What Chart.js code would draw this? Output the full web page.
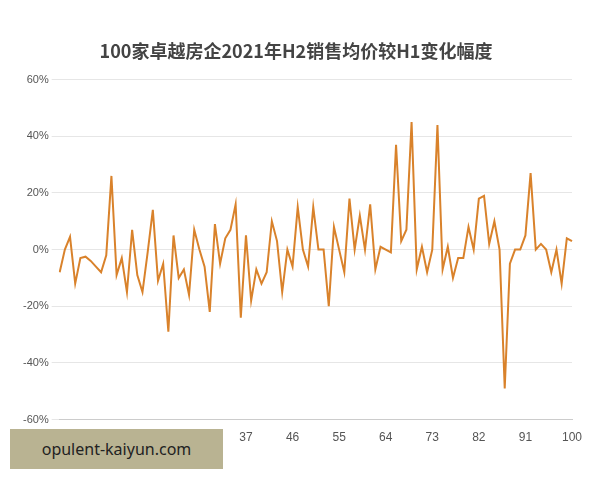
<!DOCTYPE html>
<html><head><meta charset="utf-8">
<script src="https://cdn.jsdelivr.net/npm/chart.js@4"></script>
<style>
body{margin:0;background:#fff;font-family:"Noto Sans CJK SC","Noto Sans",sans-serif}
#wrap{position:relative;width:600px;height:480px}
#mark{position:absolute;left:10px;top:429px;width:213px;height:40px;background:#b9b392;color:#222;font:16px "Noto Sans",sans-serif;line-height:40px;text-align:center}
</style></head>
<body><div id="wrap"><canvas id="c" width="600" height="480"></canvas><div id="mark">opulent-kaiyun.com</div></div>
<script>
const categories = Array.from({length: 100}, (_, i) => String(i + 1));
const shownTicks = ["1","10","19","28","37","46","55","64","73","82","91","100"];
const changePct = [
  -8, 0, 4.5, -12, -3, -2.5, -4, -6, -8, -2,
  26, -9, -3, -15, 7, -9, -15, -1, 14, -11,
  -5, -29, 5, -10, -7, -16, 7, 0, -6, -22,
  9, -5, 4, 7, 16, -24, 5, -18, -7, -12,
  -8, 10, 3, -15, 0, -6, 15, 0, -6, 15,
  0, 0, -20, 8, 0, -8, 18, 0, 12, 0,
  16, -7, 1, 0, -1, 37, 3, 7, 45, -7,
  1, -8, 0, 44, -7, 1, -10, -3, -3, 8,
  0, 18, 19, 2, 10, 0, -49, -5, 0, 0,
  5, 27, 0, 2, 0, -8, 0, -12, 4, 3
];

new Chart(document.getElementById("c"), {
  type: "line",
  data: {
    labels: categories,
    datasets: [{
      data: changePct,
      borderColor: "#d9822b",
      borderWidth: 2,
      pointRadius: 0,
      tension: 0
    }]
  },
  options: {
    responsive: false,
    animation: false,
    layout: { padding: { left: 20, right: 28, top: 36, bottom: 32 } },
    plugins: {
      legend: { display: false },
      title: {
        display: true,
        text: "100家卓越房企2021年H2销售均价较H1变化幅度",
        color: "#444",
        font: { size: 18, weight: "bold", family: "Noto Sans CJK SC" },
        padding: { top: 4, bottom: 18 }
      }
    },
    scales: {
      x: {
        grid: { display: false },
        border: { color: "#ccc" },
        ticks: {
          autoSkip: false, maxRotation: 0, color: "#555", font: { size: 12 },
          callback: function (v) {
            const l = this.getLabelForValue(v);
            return shownTicks.includes(l) ? l : null;
          }
        }
      },
      y: {
        min: -60, max: 60,
        grid: { color: "#e6e6e6" },
        border: { display: false },
        ticks: { stepSize: 20, color: "#555", font: { size: 11 }, callback: v => v + "%" }
      }
    }
  }
});
</script></body></html>
